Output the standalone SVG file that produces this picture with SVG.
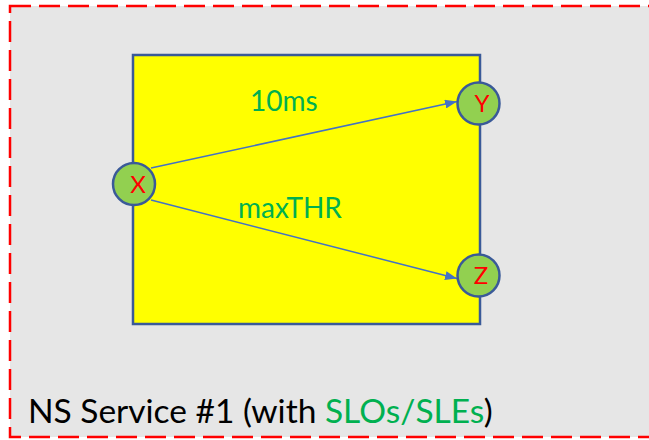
<svg xmlns="http://www.w3.org/2000/svg" width="649" height="440" viewBox="0 0 649 440">
  <style>
    .lbl { font-family: Lato, "Open Sans", sans-serif; }
    .node circle { fill: #92d050; stroke: #3a5a98; stroke-width: 2.5; }
    .node text { fill: #ff0000; font-size: 24px; text-anchor: middle; }
    .edge { stroke: #4472c4; stroke-width: 1.5; fill: none; marker-end: url(#arrow); }
    .elabel { fill: #00b050; font-size: 28px; }
  </style>
  <defs>
    <marker id="arrow" viewBox="0 0 10 10" refX="10" refY="5" markerWidth="12" markerHeight="9" markerUnits="userSpaceOnUse" orient="auto" preserveAspectRatio="none">
      <path d="M0,0 L10,5 L0,10 z" fill="#4472c4"/>
    </marker>
  </defs>
  <rect width="649" height="440" fill="#ffffff"/>
  <g id="service">
    <rect x="10" y="6" width="660" height="431" fill="#e6e6e6" stroke="#ff0000" stroke-width="2.5" stroke-dasharray="21 8"/>
    <text class="lbl" x="28" y="423" font-size="33.5" fill="#000000">NS Service #1 (with <tspan fill="#00b050">SLOs/SLEs</tspan>)</text>
  </g>
  <g id="domain">
    <rect x="133" y="55" width="347" height="269" fill="#ffff00" stroke="#3a5a98" stroke-width="2.5"/>
  </g>
  <g id="connectors">
    <line class="edge" x1="151" y1="168" x2="457" y2="101.5"/>
    <line class="edge" x1="151" y1="200" x2="457" y2="278.5"/>
    <text class="lbl elabel" x="250" y="111">10ms</text>
    <text class="lbl elabel" x="238" y="218">maxTHR</text>
  </g>
  <g id="node-x" class="node">
    <circle cx="134" cy="184" r="21"/>
    <text class="lbl" x="138" y="193">X</text>
  </g>
  <g id="node-y" class="node">
    <circle cx="478.5" cy="103.5" r="21"/>
    <text class="lbl" x="482" y="112">Y</text>
  </g>
  <g id="node-z" class="node">
    <circle cx="478.5" cy="275.5" r="21"/>
    <text class="lbl" x="481" y="284">Z</text>
  </g>
</svg>
